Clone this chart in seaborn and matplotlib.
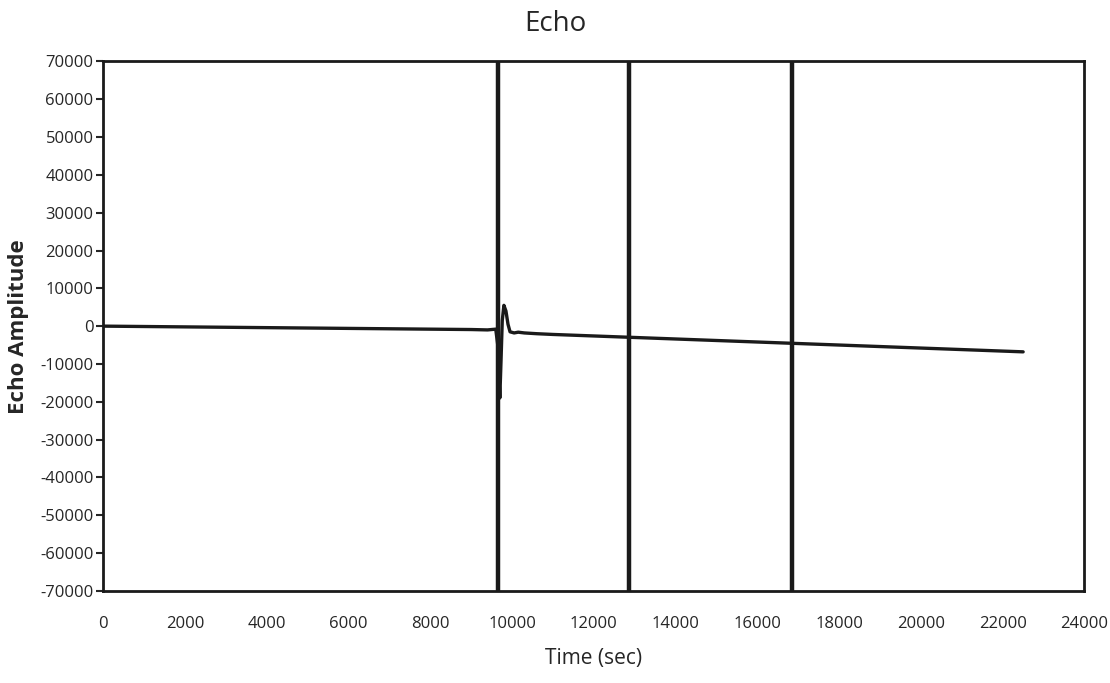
import numpy as np
import pandas as pd
import matplotlib
matplotlib.use('Agg')
import matplotlib.pyplot as plt
import seaborn as sns

# echo trace
time_sec = [0, 1000, 2000, 3000, 4000, 5000, 6000, 7000, 8000, 9000, 9400,
            9600, 9650, 9700, 9730, 9760, 9800, 9850, 9900, 9950, 10050,
            10150, 10300, 10600, 11000, 12000, 13000, 14000, 15000, 16000,
            17000, 18000, 19000, 20000, 21000, 22000, 22500]
amplitude = [0, -100, -200, -300, -400, -500, -600, -700, -800, -900, -1000,
             -800, -5000, -19000, -9000, 1500, 5500, 4000, 500, -1500, -1800,
             -1600, -1800, -2000, -2200, -2600, -3000, -3400, -3800, -4200,
             -4600, -5000, -5400, -5800, -6200, -6600, -6800]

# full-height markers
marker_times = [9650, 12850, 16850]

y_ticks = [70000, 60000, 50000, 40000, 30000, 20000, 10000, 0, -10000, -20000,
           -30000, -40000, -50000, -60000, -70000]
x_ticks = [0, 2000, 4000, 6000, 8000, 10000, 12000, 14000, 16000, 18000,
           20000, 22000, 24000]

df = pd.DataFrame({'time': time_sec, 'amp': amplitude})

sns.set_style('ticks')
plt.rcParams['font.family'] = ['Open Sans', 'DejaVu Sans']

fig = plt.figure(figsize=(11.1, 6.83), dpi=100)
ax = fig.add_axes([0.093, 0.135, 0.884, 0.775])

ax.vlines(marker_times, -70000, 70000, color='#1a1a1a', linewidth=3.2)
sns.lineplot(data=df, x='time', y='amp', ax=ax, color='#1a1a1a',
             linewidth=2.4, estimator=None, sort=False)

ax.set_xlim(0, 24000)
ax.set_ylim(-70000, 70000)
ax.set_xticks(x_ticks)
ax.set_yticks(y_ticks)
ax.set_xticklabels([str(t) for t in x_ticks], fontsize=12)
ax.set_yticklabels([str(t) for t in y_ticks], fontsize=12)
ax.tick_params(axis='y', direction='out', length=5, width=1.5, pad=2)
ax.tick_params(axis='x', direction='out', length=0, pad=18)

for s in ax.spines.values():
    s.set_visible(True)
    s.set_linewidth(2)
    s.set_color('#1a1a1a')

fig.suptitle('Echo', fontsize=20, x=0.5, y=0.985)
ax.set_xlabel('Time (sec)', fontsize=15, labelpad=12)
ax.set_ylabel('Echo Amplitude', fontsize=16, fontweight='bold', labelpad=8)

plt.savefig('out.png', dpi=100)
